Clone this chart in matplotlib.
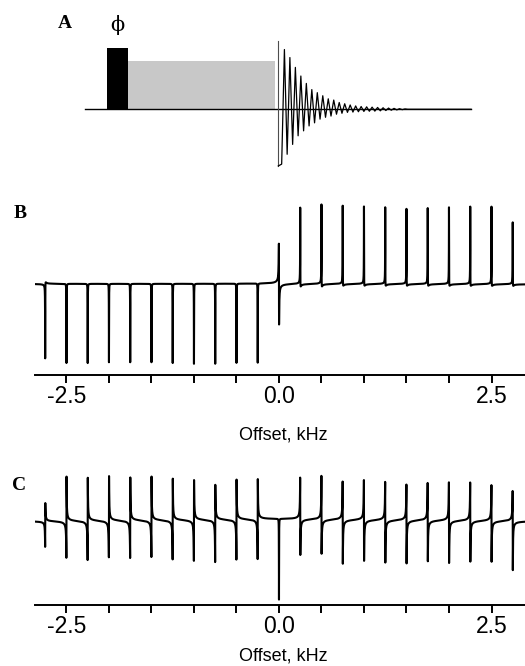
import numpy as np
import matplotlib
matplotlib.use('Agg')
import matplotlib.pyplot as plt
from matplotlib.patches import Rectangle
from matplotlib.ticker import FixedLocator, FixedFormatter

# ---- A: pulse sequence (time in units of the excitation pulse length, height in units of its amplitude)
seq_start, seq_end = -1.03, 17.35
pulse_start, pulse_len, pulse_amp = 0.0, 1.0, 1.0
lock_len, lock_amp = 7.03, 0.78
acq_start = 8.17
acq_marker = (-0.92, 1.11)
fid_first, fid_half_period = 0.162, 0.1305
fid_extremes = [-0.89, 0.97, -0.73, 0.84, -0.57, 0.68, -0.43, 0.54, -0.35, 0.42,
                -0.27, 0.32, -0.22, 0.27, -0.16, 0.22, -0.13, 0.17, -0.11, 0.15,
                -0.08, 0.11, -0.065, 0.09, -0.05, 0.07, -0.045, 0.055, -0.04, 0.045,
                -0.035, 0.04, -0.032, 0.035, -0.03, 0.03, -0.025, 0.025, -0.02, 0.02,
                -0.015, 0.015, -0.01, 0.01, -0.006, 0.006, 0.0]

# ---- B, C: spectra, one line every 0.25 kHz
offsets_khz = [-2.75, -2.5, -2.25, -2.0, -1.75, -1.5, -1.25, -1.0, -0.75, -0.5, -0.25, 0.0,
               0.25, 0.5, 0.75, 1.0, 1.25, 1.5, 1.75, 2.0, 2.25, 2.5, 2.75]
# positive and negative extent of each line, and which side carries the positive lobe
b_up = [0.02, 0.0, 0.0, 0.0, 0.0, 0.0, 0.0, 0.0, 0.0, 0.0, 0.0, 0.50,
        0.96, 1.00, 0.99, 0.98, 0.97, 0.95, 0.96, 0.97, 0.98, 0.98, 0.78]
b_down = [0.94, 0.99, 0.99, 0.98, 0.98, 0.98, 0.99, 1.00, 1.00, 0.99, 0.99, 0.51,
          0.03, 0.03, 0.02, 0.02, 0.02, 0.02, 0.02, 0.02, 0.02, 0.02, 0.02]
b_side = [1] * 11 + [-1] * 12
c_up = [0.23, 0.56, 0.54, 0.56, 0.54, 0.55, 0.52, 0.50, 0.44, 0.50, 0.50, 0.0,
        0.52, 0.55, 0.48, 0.50, 0.48, 0.45, 0.47, 0.48, 0.48, 0.45, 0.38]
c_down = [0.32, 0.46, 0.49, 0.46, 0.47, 0.46, 0.49, 0.51, 0.53, 0.50, 0.50, 1.01,
          0.45, 0.43, 0.55, 0.51, 0.53, 0.54, 0.51, 0.53, 0.51, 0.51, 0.61]
c_side = [1] * 11 + [-1] * 12
tick_pos = [-2.5, -2.0, -1.5, -1.0, -0.5, 0.0, 0.5, 1.0, 1.5, 2.0, 2.5]
tick_text = ['-2.5', '', '', '', '', '0.0', '', '', '', '', '2.5']

line_width = 0.001  # kHz
# coarse grid plus dense sampling around every line
freq = np.sort(np.concatenate([np.arange(-2.87, 2.9, 0.002)] +
                              [x0 + line_width * np.linspace(-40, 40, 321) for x0 in offsets_khz]))


def spectrum(up, down, side):
    # mixed absorption/dispersion Lorentzians reaching +up and -down
    y = np.zeros_like(freq)
    for x0, u_, d_, s in zip(offsets_khz, up, down, side):
        a = u_ - d_
        d = s * 2 * np.sqrt(u_ * d_)
        u = (freq - x0) / line_width
        y += (a + d * u) / (1 + u ** 2)
    return y


W, H = 525, 666
fig = plt.figure(figsize=(W / 100, H / 100), dpi=100)


def px_axes(left, top, right, bottom):
    return fig.add_axes([left / W, 1 - bottom / H, (right - left) / W, (bottom - top) / H])


# A
ax_a = px_axes(80, 30, 480, 175)
ax_a.set_xlim(-1.271, 17.776)
ax_a.set_ylim(-1.0666, 1.287)
ax_a.axis('off')
ax_a.plot([seq_start, seq_end], [0, 0], color='black', lw=1.0)
ax_a.add_patch(Rectangle((pulse_start + pulse_len, 0), lock_len, lock_amp, facecolor='#c8c8c8', edgecolor='none'))
ax_a.add_patch(Rectangle((pulse_start, 0), pulse_len, pulse_amp, facecolor='black', edgecolor='none'))
ax_a.plot([acq_start, acq_start], acq_marker, color='0.3', lw=0.8)
fid_t = [acq_start] + [acq_start + fid_first + i * fid_half_period for i in range(len(fid_extremes))] + [seq_end]
fid_y = [acq_marker[0]] + fid_extremes + [0.0]
ax_a.plot(fid_t, fid_y, color='black', lw=0.9)


def spectrum_axes(ax, y, ylim):
    ax.plot(freq, y, color='black', lw=1.5)
    ax.set_xlim(-2.87, 2.894)
    ax.set_ylim(*ylim)
    for s in ('left', 'right', 'top'):
        ax.spines[s].set_visible(False)
    ax.spines['bottom'].set_linewidth(1.4)
    ax.set_yticks([])
    ax.xaxis.set_major_locator(FixedLocator(tick_pos))
    ax.xaxis.set_major_formatter(FixedFormatter(tick_text))
    ax.tick_params(axis='x', direction='out', length=5.8, width=1.4, pad=1.5,
                   labelsize=16.5)
    for lab in ax.get_xticklabels():
        lab.set_family('Liberation Sans')
    ax.set_xlabel('Offset, kHz', family='Liberation Sans', fontsize=13)


ax_b = px_axes(35, 195, 525, 375)
spectrum_axes(ax_b, spectrum(b_up, b_down, b_side), (-1.1375, 1.1125))
ax_b.xaxis.set_label_coords(248 / 490, -(435 - 375) / 180)
ax_b.xaxis.label.set_va('center')

ax_c = px_axes(35, 465, 525, 605)
spectrum_axes(ax_c, spectrum(c_up, c_down, c_side), (-1.054, 0.696))
ax_c.xaxis.set_label_coords(248 / 490, -(656 - 605) / 140)
ax_c.xaxis.label.set_va('center')

# panel letters and phase label
for letter, (x, y) in zip('ABC', [(65, 24), (20, 213), (19, 486)]):
    fig.text(x / W, 1 - y / H, letter, family='Liberation Serif', weight='bold',
             fontsize=14, ha='center', va='center')
fig.text(117 / W, 1 - 25 / H, 'ϕ', family='DejaVu Serif', fontsize=15, ha='center', va='center')

fig.savefig('out.png', dpi=100)
